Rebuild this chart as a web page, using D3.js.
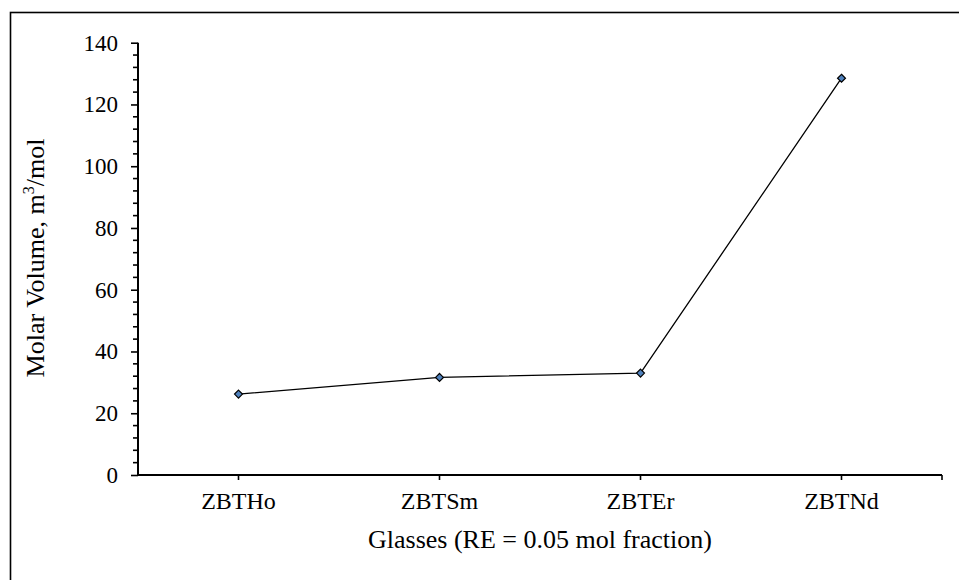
<!DOCTYPE html>
<html>
<head>
<meta charset="utf-8">
<script src="https://cdn.jsdelivr.net/npm/d3@7"></script>
<style>
  html, body { margin: 0; padding: 0; background: #fff; }
  svg { display: block; }
  text { font-family: "Liberation Serif", "Times New Roman", serif; fill: #000; }
</style>
</head>
<body>
<svg id="chart" width="959" height="580"></svg>
<script>
const categories = ["ZBTHo", "ZBTSm", "ZBTEr", "ZBTNd"];
const molarVolume = [26.2, 31.6, 33.0, 128.5];
const yTicks = [0, 20, 40, 60, 80, 100, 120, 140];
const xTitle = "Glasses (RE = 0.05 mol fraction)";

const svg = d3.select("#chart");
const plotL = 138, plotR = 942, plotT = 42.7, plotB = 475;

// outer frame (only left/top visible)
svg.append("rect").attr("x", 10.5).attr("y", 12.5).attr("width", 1200).attr("height", 1200)
  .attr("fill", "none").attr("stroke", "#000").attr("stroke-width", 1.6);

const x = d3.scaleBand().domain(categories).range([plotL, plotR]).padding(0);
const y = d3.scaleLinear().domain([0, 140]).range([plotB, plotT]);

// minor y ticks
const minor = d3.range(0, 141, 4).filter(v => v % 20 !== 0);
svg.append("g").selectAll("line").data(minor).join("line")
  .attr("x1", plotL - 5).attr("x2", plotL).attr("y1", d => y(d)).attr("y2", d => y(d))
  .attr("stroke", "#000").attr("stroke-width", 1.6);

// y axis
const yAxis = svg.append("g").attr("transform", `translate(${plotL},0)`)
  .call(d3.axisLeft(y).tickValues(yTicks).tickSize(7).tickPadding(13).tickFormat(d3.format("d")));
yAxis.select(".domain").attr("d", `M0,${plotT}V${plotB}`).attr("stroke-width", 2);
yAxis.selectAll(".tick line").attr("stroke-width", 1.6);
yAxis.selectAll("text").attr("font-size", 23).attr("font-family", "Liberation Serif");

// x axis
const xAxis = svg.append("g").attr("transform", `translate(0,${plotB})`)
  .call(d3.axisBottom(x).tickSize(5).tickPadding(12));
xAxis.select(".domain").attr("d", `M${plotL},0H${plotR}`).attr("stroke-width", 2);
xAxis.selectAll(".tick line").attr("stroke-width", 1.6);
xAxis.selectAll("text").attr("font-size", 24).attr("font-family", "Liberation Serif");
// end tick
xAxis.append("line").attr("x1", plotR).attr("x2", plotR).attr("y1", 0).attr("y2", 5)
  .attr("stroke", "#000").attr("stroke-width", 1.6);

// line
const line = d3.line().x((d, i) => x(categories[i]) + x.bandwidth() / 2).y(d => y(d));
svg.append("path").datum(molarVolume).attr("d", line)
  .attr("fill", "none").attr("stroke", "#000").attr("stroke-width", 1.3);

// markers
const diamond = d3.symbol().type(d3.symbolDiamond2).size(40);
svg.append("g").selectAll("path").data(molarVolume).join("path")
  .attr("d", diamond)
  .attr("transform", (d, i) => `translate(${x(categories[i]) + x.bandwidth() / 2},${y(d)})`)
  .attr("fill", "#4F81BD").attr("stroke", "#000").attr("stroke-width", 1.2);

// x title
svg.append("text").attr("x", (plotL + plotR) / 2).attr("y", 548)
  .attr("text-anchor", "middle").attr("font-size", 26).text(xTitle);

// y title
const yt = svg.append("text").attr("transform", "translate(44,258) rotate(-90)")
  .attr("text-anchor", "middle").attr("font-size", 26);
yt.append("tspan").text("Molar Volume, m");
yt.append("tspan").attr("font-size", 16).attr("dy", -10).text("3");
yt.append("tspan").attr("dy", 10).text("/mol");
</script>
</body>
</html>
